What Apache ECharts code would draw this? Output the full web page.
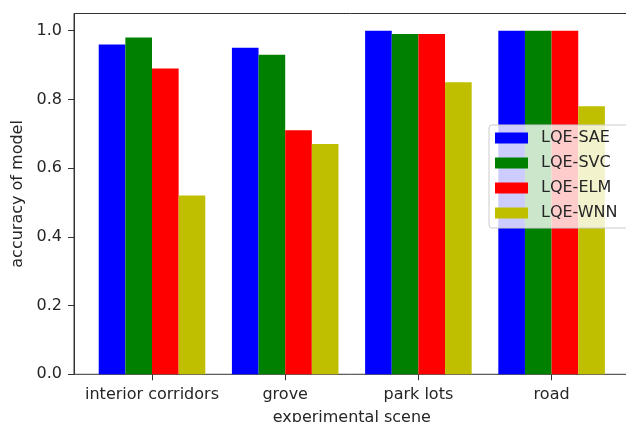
<!DOCTYPE html>
<html>
<head>
<meta charset="utf-8">
<script src="https://cdn.jsdelivr.net/npm/echarts@6/dist/echarts.min.js"></script>
<style>
  html, body { margin: 0; padding: 0; background: #fff; }
  #chart { width: 626px; height: 422px; }
</style>
</head>
<body>
<div id="chart"></div>
<script>
const categories = ['interior corridors', 'grove', 'park lots', 'road']
const seriesNames = ['LQE-SAE', 'LQE-SVC', 'LQE-ELM', 'LQE-WNN']
const lqeSae = [0.96, 0.95, 1.0, 1.0]
const lqeSvc = [0.98, 0.93, 0.99, 1.0]
const lqeElm = [0.89, 0.71, 0.99, 1.0]
const lqeWnn = [0.52, 0.67, 0.85, 0.78]
const yTicks = [0.0, 0.2, 0.4, 0.6, 0.8, 1.0]

const colors = ['#0000ff', '#008000', '#ff0000', '#bfbf00']
const values = [lqeSae, lqeSvc, lqeElm, lqeWnn]
const font = 'DejaVu Sans'
const ink = '#333'

const myChart = echarts.init(document.getElementById('chart'))

const option = {
  animation: false,
  grid: [
    // bars
    { left: 85.4, top: 13.5, width: 532.8, height: 360.8, outerBoundsMode: 'none' },
    // frame (matplotlib spines), right side runs off the canvas
    {
      left: 74,
      top: 13.5,
      width: 556,
      height: 360.8,
      outerBoundsMode: 'none',
      show: true,
      borderColor: ink,
      borderWidth: 1,
      backgroundColor: 'transparent'
    }
  ],
  legend: {
    left: 489,
    top: 125,
    orient: 'vertical',
    icon: 'rect',
    itemWidth: 33,
    itemHeight: 11,
    itemGap: 7,
    padding: [4, 20, 6, 6],
    backgroundColor: 'rgba(255,255,255,0.8)',
    borderColor: '#cccccc',
    borderWidth: 1,
    borderRadius: 3,
    textStyle: {
      color: '#262626',
      fontFamily: font,
      fontSize: 16,
      lineHeight: 18,
      padding: [0, 0, 0, 8]
    },
    data: seriesNames
  },
  xAxis: [
    {
      type: 'category',
      gridIndex: 0,
      data: categories,
      name: 'experimental scene',
      nameLocation: 'middle',
      nameGap: 36,
      nameTextStyle: { color: '#262626', fontFamily: font, fontSize: 16 },
      axisLine: { show: false },
      axisTick: {
        show: true,
        alignWithLabel: true,
        length: 6,
        lineStyle: { color: ink }
      },
      axisLabel: {
        color: '#262626',
        fontFamily: font,
        fontSize: 16,
        margin: 13,
        interval: 0
      },
      splitLine: { show: false }
    },
    { type: 'value', gridIndex: 1, show: false, min: 0, max: 1 }
  ],
  yAxis: [
    { type: 'value', gridIndex: 0, show: false, min: 0, max: 1.05 },
    {
      type: 'value',
      gridIndex: 1,
      min: 0,
      max: 1.05,
      name: 'accuracy of model',
      nameLocation: 'middle',
      nameGap: 46,
      nameTextStyle: { color: '#262626', fontFamily: font, fontSize: 16 },
      axisLine: { show: true, lineStyle: { color: ink } },
      axisTick: {
        show: true,
        length: 6,
        customValues: yTicks,
        lineStyle: { color: ink }
      },
      axisLabel: {
        color: '#262626',
        fontFamily: font,
        fontSize: 16,
        margin: 12,
        customValues: yTicks,
        formatter: (v) => v.toFixed(1)
      },
      splitLine: { show: false }
    }
  ],
  series: seriesNames.map((name, i) => ({
    name: name,
    type: 'bar',
    xAxisIndex: 0,
    yAxisIndex: 0,
    barGap: '0%',
    barCategoryGap: '20%',
    data: values[i],
    itemStyle: { color: colors[i] }
  }))
}

myChart.setOption(option)
</script>
</body>
</html>
